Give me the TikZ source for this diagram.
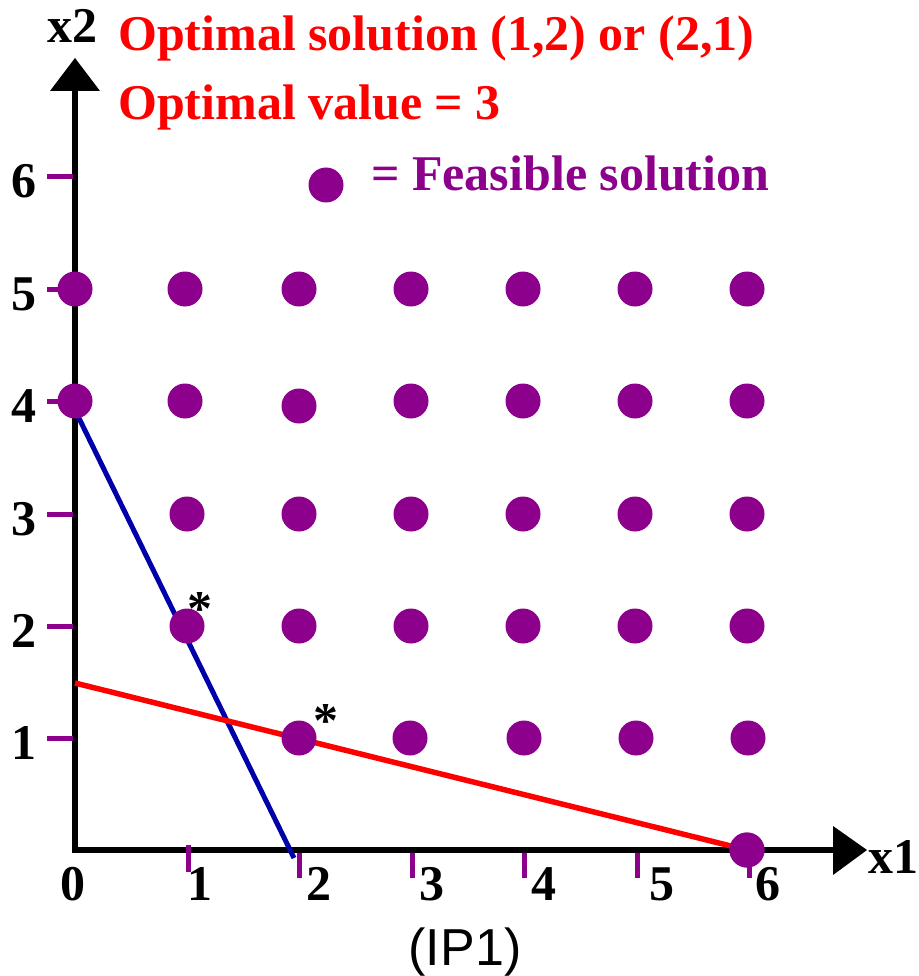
\documentclass[tikz,border=0pt]{standalone}
\usepackage{fontspec}
\setmainfont{Liberation Serif}
\newfontfamily\sansf{Liberation Sans}
\definecolor{dotpurple}{RGB}{140,0,140}
\definecolor{optred}{RGB}{255,0,0}
\definecolor{cblue}{RGB}{0,0,170}
\begin{document}
\begin{tikzpicture}[x=1pt,y=-1pt,
  big/.style={inner sep=0pt,font=\fontsize{50}{60}\selectfont\bfseries},
  ylab/.style={big,anchor=base},
  xlab/.style={big,anchor=base},
  feas/.style={circle,fill=dotpurple,draw=none,minimum size=35pt,inner sep=0pt},
  tick/.style={draw=dotpurple,line width=5pt},
  axis/.style={draw=black,line width=5.5pt},
  head/.style={fill=black,draw=none},
  star/.style={inner sep=0pt,anchor=base,font=\fontsize{50}{60}\selectfont\bfseries}]
\useasboundingbox (0,0) rectangle (918,976);
% axes
\coordinate (O) at (75,850);
\coordinate (ytop) at (75,91);
\coordinate (xend) at (833,850);
\draw[axis] (75,852.5) -- (ytop);
\draw[axis] (72.5,850) -- (xend);
\fill[head] (75,58) -- (50,91) -- (100,91) -- cycle;
\fill[head] (867,850) -- (833,826) -- (833,875) -- cycle;
% y ticks
\foreach \yy in {177,289,401,514,626,738}{
  \draw[tick] (47,\yy) -- (73,\yy);
}
% x ticks
\draw[tick] (188,845) -- (188,872);
\foreach \xx in {299,412,524,637,749}{
  \draw[tick] (\xx,853) -- (\xx,878);
}
% axis labels
\node[big,anchor=base west] (lx2) at (47,43) {x2};
\node[big,anchor=base west] (lx1) at (868,873) {x1};
% y labels
\node[ylab] (y6) at (24,198) {6};
\node[ylab] (y5) at (24,310) {5};
\node[ylab] (y4) at (24,422) {4};
\node[ylab] (y3) at (24,535) {3};
\node[ylab] (y2) at (24,647) {2};
\node[ylab] (y1) at (24,759) {1};
% x labels
\node[xlab] (x0) at (73,900) {0};
\node[xlab] (x1) at (200,900) {1};
\node[xlab] (xl2) at (319,900) {2};
\node[xlab] (xl3) at (432,900) {3};
\node[xlab] (xl4) at (544,900) {4};
\node[xlab] (xl5) at (662,900) {5};
\node[xlab] (xl6) at (768,900) {6};
% titles
\node[big,anchor=base west,text=optred] (t1) at (118,51) {Optimal solution (1,2) or (2,1)};
\node[big,anchor=base west,text=optred] (t2) at (118,120) {Optimal value = 3};
\node[big,anchor=base west,text=dotpurple] (t3) at (371,191) {= Feasible solution};
\node[inner sep=0pt,anchor=base,font=\sansf\fontsize{52}{60}\selectfont] (ip) at (465,965) {(IP1)};
% constraint lines
\coordinate (bstart) at (75,410);
\coordinate (bend) at (294,858);
\draw[cblue,line width=5pt] (bstart) -- (bend);
\coordinate (rstart) at (75,683);
% dots
\node[feas] (d60) at (747,850) {};
\draw[optred,line width=5.5pt] (rstart) -- (d60.center);
\node[feas] (d60b) at (747,850) {};
\node[feas] (leg) at (326,185) {};
\foreach \xx/\nm in {75/0,185/1,299/2,411/3,523/4,635/5,747/6}{
  \node[feas] (d\nm5) at (\xx,289) {};
}
\foreach \xx/\yy/\nm in {75/401/0,185/401/1,299/406/2,411/401/3,523/401/4,635/401/5,747/401/6}{
  \node[feas] (d\nm4) at (\xx,\yy) {};
}
\foreach \xx/\nm in {187/1,299/2,411/3,523/4,635/5,747/6}{
  \node[feas] (d\nm3) at (\xx,514) {};
  \node[feas] (d\nm2) at (\xx,626) {};
}
\foreach \xx/\nm in {299/2,410/3,524/4,636/5,748/6}{
  \node[feas] (d\nm1) at (\xx,738) {};
}
% optimal markers
\node[star] (s1) at (200,625) {*};
\node[star] (s2) at (326,737) {*};
\end{tikzpicture}
\end{document}
